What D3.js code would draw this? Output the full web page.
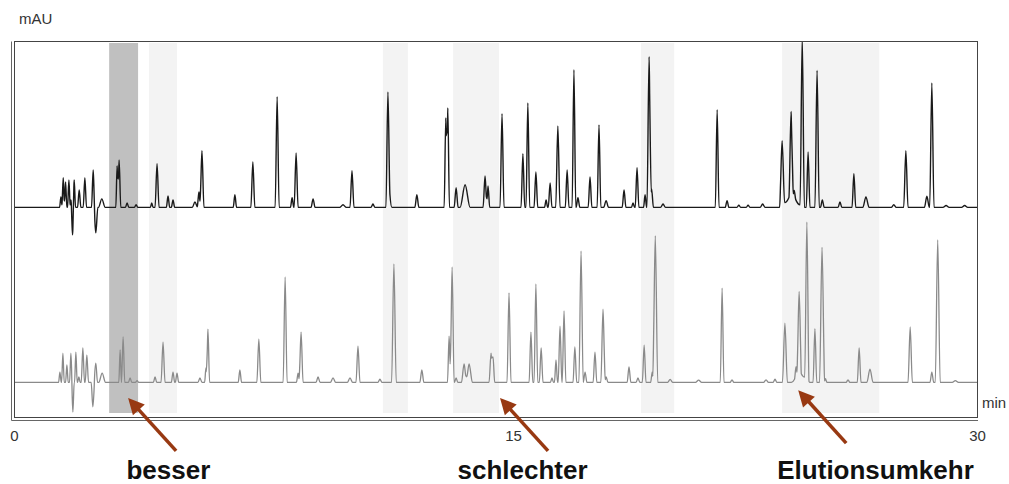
<!doctype html>
<html>
<head>
<meta charset="utf-8">
<script src="https://d3js.org/d3.v7.min.js"></script>
<style>
body { margin: 0; background: #fff; }
text { font-family: "Liberation Sans", Arial, sans-serif; }
</style>
</head>
<body>
<script type="text/javascript">
var width = 1009;
var height = 484;

// peaks: [retention time (min), height (mAU), half base width (min)]
var topPeaks = [
 [1.41, 2.8, .04], [1.48, 8.0, .04], [1.55, 6.9, .04], [1.65, 7.4, .04], [1.71, 2.0, .03], [1.76, -7.4, .04],
 [1.81, 7.4, .04], [1.96, 4.7, .05], [2.13, 8.0, .05], [2.38, 10.1, .05], [2.46, -6.9, .06], [2.64, 2.3, .1],
 [3.10, 11.2, .04], [3.16, 12.8, .05], [3.40, 1.2, .05], [3.67, 0.7, .05], [4.14, 1.2, .04], [4.30, 11.8, .06],
 [4.63, 3.1, .05], [4.78, 2.0, .05], [5.44, 1.5, .08], [5.56, 4.2, .05], [5.65, 15.3, .06], [6.64, 3.4, .05],
 [7.18, 12.3, .06], [7.91, 29.9, .06], [8.36, 2.6, .05], [8.48, 14.7, .06], [8.99, 2.3, .06], [9.89, 0.7, .1],
 [10.16, 9.9, .06], [10.79, 0.9, .06], [11.24, 31.2, .06], [11.30, 3.5, .06], [12.11, 3.4, .06], [12.98, 24.2, .05],
 [13.04, 26.9, .05], [13.29, 5.3, .06], [13.56, 6.1, .15], [14.16, 8.5, .06], [14.25, 5.8, .05], [14.67, 25.3, .06],
 [15.32, 14.5, .06], [15.48, 28.2, .06], [15.74, 9.6, .06], [16.07, 2.0, .05], [16.20, 6.6, .06], [16.45, 22.0, .07],
 [16.75, 10.1, .06], [16.97, 37.2, .06], [17.10, 2.6, .06], [17.49, 8.2, .06], [17.78, 22.3, .06], [18.01, 1.8, .08],
 [18.59, 4.7, .06], [18.88, 1.2, .05], [19.01, 10.7, .06], [19.27, 3.4, .05], [19.40, 40.7, .07], [19.48, 5.0, .06],
 [19.85, 0.9, .08], [21.60, 26.4, .06], [21.92, 1.8, .06], [22.30, 0.6, .06], [22.60, 0.6, .06], [23.07, 0.9, .08],
 [24.00, 3.5, .35], [23.70, 17.5, .08], [23.99, 22.5, .07], [24.09, 2.0, .05], [24.35, 46.0, .07], [24.54, 15.0, .06],
 [24.83, 37.0, .07], [25.00, 2.0, .06], [25.57, 1.5, .06], [26.02, 9.1, .06], [26.41, 2.8, .1], [27.31, 0.7, .08],
 [27.70, 15.3, .07], [28.38, 3.0, .08], [28.54, 33.6, .07], [29.00, 0.5, .1], [29.60, 0.5, .1]
];

var bottomPeaks = [
 [1.38, 2.8, .04], [1.47, 7.9, .04], [1.59, 4.7, .04], [1.71, 7.9, .04], [1.77, -8.0, .04], [1.86, 8.2, .04],
 [1.95, 1.5, .04], [2.07, 9.3, .05], [2.19, 7.4, .05], [2.37, -6.6, .05], [2.46, 5.2, .05], [2.65, 2.5, .1],
 [3.19, 8.8, .04], [3.28, 12.3, .05], [3.49, 1.2, .05], [3.70, 0.5, .05], [4.24, 1.5, .05], [4.48, 10.9, .06],
 [4.78, 2.8, .05], [4.90, 2.5, .05], [5.59, 1.2, .06], [5.77, 3.9, .04], [5.83, 14.4, .05], [6.79, 3.4, .05],
 [7.36, 11.7, .06], [8.15, 28.5, .06], [8.54, 2.5, .05], [8.63, 13.6, .06], [9.14, 1.5, .06], [9.59, 1.2, .08],
 [10.10, 1.2, .08], [10.34, 9.8, .06], [11.00, 0.9, .06], [11.42, 32.0, .07], [12.26, 3.4, .06], [13.08, 12.5, .05],
 [13.17, 31.2, .06], [13.29, 1.2, .05], [13.53, 5.0, .08], [13.68, 5.0, .1], [14.34, 7.9, .06], [14.40, 6.9, .05],
 [14.88, 24.2, .06], [15.58, 13.6, .06], [15.74, 26.6, .06], [15.91, 9.3, .06], [16.26, 1.2, .05], [16.39, 6.1, .05],
 [16.52, 15.2, .06], [16.65, 19.3, .06], [17.00, 9.6, .06], [17.20, 35.5, .07], [17.33, 2.8, .06], [17.65, 8.2, .06],
 [17.91, 19.8, .07], [18.01, 1.5, .06], [18.75, 4.2, .06], [19.04, 1.2, .06], [19.24, 10.1, .06], [19.50, 2.8, .05],
 [19.60, 39.6, .08], [20.08, 0.8, .08], [21.00, 0.6, .1], [21.76, 25.5, .06], [22.08, 0.7, .06], [23.18, 0.7, .08],
 [23.47, 0.9, .06], [24.30, 2.5, .3], [23.79, 16.0, .08], [24.15, 3.0, .05], [24.25, 22.5, .07], [24.50, 42.5, .07],
 [24.76, 14.5, .06], [24.99, 36.5, .08], [25.10, 1.0, .05], [25.83, 0.7, .06], [26.19, 9.3, .06], [26.54, 3.6, .1],
 [27.84, 15.0, .07], [28.54, 2.8, .06], [28.73, 38.5, .08], [29.30, 0.5, .1]
];

// offset of the upper trace (mAU)
var topOffset = 47.3;

// highlighted retention windows (min); first one is the dark one
var bands = [[2.86, 3.73], [4.06, 4.90], [11.09, 11.84], [13.20, 14.58], [19.14, 20.21], [23.70, 26.84]];

var xTicks = [0, 15, 30];

var notes = ["besser", "schlechter", "Elutionsumkehr"];
var noteTip = [[3.43, -4.2], [14.61, -4.2], [24.22, -2.1]];
var noteLabelTime = [4.64, 15.31, 26.72];

var svg = d3.select("body").append("svg")
    .attr("width", width)
    .attr("height", height);

// x axis is drawn unevenly in the original, hence three stops
var x = d3.scaleLinear().domain([0, 15, 30]).range([14, 513, 977]);
var y = d3.scaleLinear().domain([-8, 92]).range([412, 42]);

var frameL = 14.5, frameR = 977.5, frameT = 41.5, frameB = 417.5;

svg.append("clipPath").attr("id", "plot")
  .append("rect")
    .attr("x", frameL).attr("y", frameT + 0.5)
    .attr("width", frameR - frameL).attr("height", frameB - frameT - 0.5);

// shaded bands
svg.append("g").selectAll("rect")
    .data(bands)
    .enter()
    .append("rect")
    .attr("x", function (d) { return x(d[0]); })
    .attr("width", function (d) { return x(d[1]) - x(d[0]); })
    .attr("y", 43)
    .attr("height", 413 - 43)
    .attr("fill", function (d, i) { return i == 0 ? "#c0c0c0" : "#f3f3f3"; });

// sum of the triangular peaks, evaluated at every corner
function trace(peaks, offset) {
  var ts = [0, 30];
  peaks.forEach(function (p) { ts.push(p[0] - p[2], p[0], p[0] + p[2]); });
  ts = ts.filter(function (t) { return t >= 0 && t <= 30; }).sort(function (a, b) { return a - b; });
  return ts.map(function (t) {
    var v = d3.sum(peaks, function (p) { return Math.max(0, 1 - Math.abs(t - p[0]) / p[2]) * p[1]; });
    return [t, offset + v];
  });
}

var line = d3.line()
    .curve(d3.curveMonotoneX)
    .x(function (d) { return x(d[0]); })
    .y(function (d) { return y(d[1]); });

var traces = svg.append("g").attr("clip-path", "url(#plot)");

traces.append("path")
    .attr("d", line(trace(bottomPeaks, 0)))
    .attr("fill", "none")
    .attr("stroke", "#8a8a8a")
    .attr("stroke-width", 1.3)
    .attr("stroke-linejoin", "round");

traces.append("path")
    .attr("d", line(trace(topPeaks, topOffset)))
    .attr("fill", "none")
    .attr("stroke", "#1a1a1a")
    .attr("stroke-width", 1.4)
    .attr("stroke-linejoin", "round");

// frame, with the doubled left and bottom edges
svg.append("rect")
    .attr("x", frameL).attr("y", frameT)
    .attr("width", frameR - frameL).attr("height", frameB - frameT)
    .attr("fill", "none")
    .attr("stroke", "#444");
svg.append("path")
    .attr("d", "M11.5," + frameT + "V420.5H" + (frameR + 0.5))
    .attr("fill", "none")
    .attr("stroke", "#666");

// x axis labels
var xAxis = d3.axisBottom(x).tickValues(xTicks).tickSize(0).tickPadding(10).tickFormat(d3.format("d"));
var ax = svg.append("g").attr("transform", "translate(0,420)").call(xAxis);
ax.select(".domain").remove();
ax.selectAll("text")
    .attr("font-size", 15)
    .attr("font-family", "Liberation Sans, Arial, sans-serif")
    .attr("fill", "#333");

svg.append("text")
    .attr("x", 19).attr("y", 24)
    .attr("font-size", 15)
    .attr("fill", "#333")
    .text("mAU");

svg.append("text")
    .attr("x", 982).attr("y", 408)
    .attr("font-size", 15)
    .attr("fill", "#333")
    .text("min");

// annotations with arrows
var arrowColor = "#983912";
var ann = svg.append("g");
notes.forEach(function (label, i) {
  var tx = x(noteTip[i][0]), ty = y(noteTip[i][1]);
  var sx = tx + 48, sy = ty + 53;
  var ang = Math.atan2(ty - sy, tx - sx);
  var hl = 16, hw = 8;
  var bx = tx - hl * Math.cos(ang), by = ty - hl * Math.sin(ang);
  ann.append("line")
      .attr("x1", sx).attr("y1", sy)
      .attr("x2", bx + 2 * Math.cos(ang)).attr("y2", by + 2 * Math.sin(ang))
      .attr("stroke", arrowColor)
      .attr("stroke-width", 3.5);
  ann.append("path")
      .attr("d", "M" + tx + "," + ty +
                 "L" + (bx + hw * Math.sin(ang)) + "," + (by - hw * Math.cos(ang)) +
                 "L" + (bx - hw * Math.sin(ang)) + "," + (by + hw * Math.cos(ang)) + "Z")
      .attr("fill", arrowColor);
  ann.append("text")
      .attr("x", x(noteLabelTime[i]))
      .attr("y", 479)
      .attr("text-anchor", "middle")
      .attr("font-size", 26)
      .attr("font-weight", "bold")
      .attr("fill", "#111")
      .text(label);
});
</script>
</body>
</html>
